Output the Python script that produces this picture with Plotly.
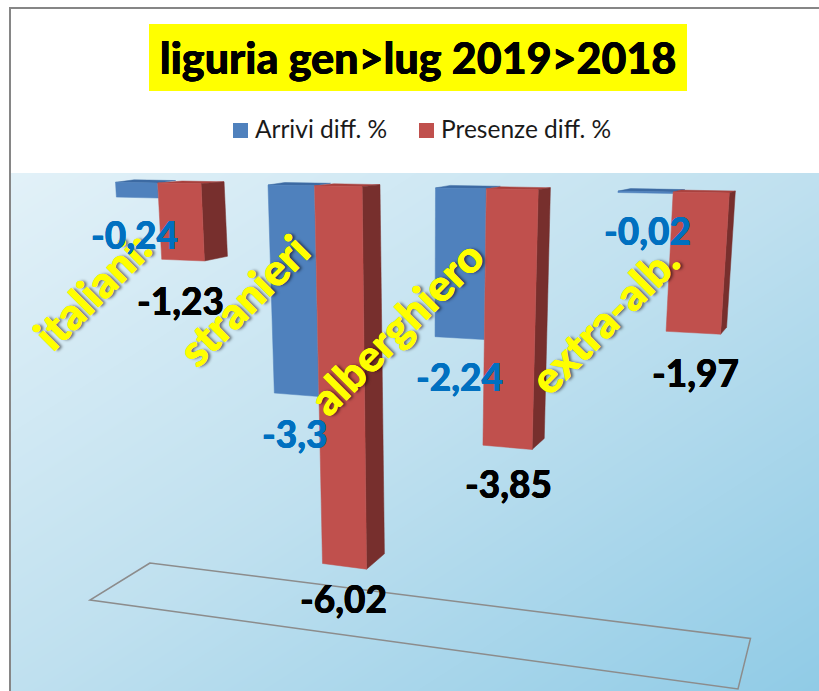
import plotly.graph_objects as go

# ---- data ----
categories = ["italiani:", "stranieri", "alberghiero", "extra-alb."]
arrivi = [-0.24, -3.3, -2.24, -0.02]
presenze = [-1.23, -6.02, -3.85, -1.97]
arrivi_labels = ["-0,24", "-3,3", "-2,24", "-0,02"]
presenze_labels = ["-1,23", "-6,02", "-3,85", "-1,97"]
series_names = ["Arrivi diff. %", "Presenze diff. %"]
title_text = "liguria gen>lug 2019>2018"

BLUE, BLUE_TOP, BLUE_LBL = "#4f81bd", "#3c6aa3", "#0070c0"
RED, RED_SIDE, RED_TOP = "#c0504d", "#772f2d", "#a8403d"
FONT = "Lato"


def heavy(color, w=0.3):
    return f"{w}px 0 0 {color}, -{w}px 0 0 {color}"


# ---- the chart's perspective: world (c, value) -> picture axes ----
def top_x(c):
    return 115.5 + 145 * c + 7.5 * c * c


def drop(x, v):
    return abs(v) * (59.7 + 0.0177 * x) / (1 + 0.0067 * abs(v))


def front(c, v):
    x = top_x(c)
    d = drop(x, v)
    return x + (420 - x) * d / 5000, 180.3 + 0.0175 * x + d


def back(c, v):
    x = top_x(c)
    d = drop(x, v)
    return (x + (420 - x) * d / 5000 + 29.5 - 0.0322 * x,
            180.3 + 0.0175 * x + d - 2 - 0.035 * d)


def blue_back(c):
    x, y = front(c, 0)
    return x + 20 - 0.012 * x, y - 2.5


def poly(pts, color, name):
    xs = [p[0] for p in pts] + [pts[0][0]]
    ys = [p[1] for p in pts] + [pts[0][1]]
    return go.Scatter(x=xs, y=ys, mode="lines", fill="toself", fillcolor=color,
                      line=dict(color=color, width=0.5), xaxis="x2", yaxis="y2",
                      name=name, showlegend=False, hoverinfo="skip")


GAP = 0.287
W = 0.286
fig = go.Figure()

# background gradient of the plot wall
fig.add_trace(go.Heatmap(z=[[0, 0.5], [0.5, 1]], x=[0, 1], y=[1, 0], zmin=0, zmax=1,
                         zsmooth="best", showscale=False, hoverinfo="skip",
                         colorscale=[[0, "#e2f1f8"], [0.5, "#bfe0ef"], [1, "#90cbe6"]]))

for i, (a, p) in enumerate(zip(arrivi, presenze)):
    c = float(i)
    # blue bar
    fig.add_trace(poly([front(c, 0), blue_back(c), blue_back(c + W), front(c + W, 0)],
                       BLUE_TOP, series_names[0]))
    fig.add_trace(poly([front(c, 0), front(c + W, 0), front(c + W, a), front(c, a)],
                       BLUE, series_names[0]))
    # red bar
    l, r = c + GAP, c + GAP + W
    fig.add_trace(poly([front(l, 0), front(r, 0), back(r, 0), back(l, 0)], RED_TOP, series_names[1]))
    fig.add_trace(poly([front(r, 0), back(r, 0), back(r, p), front(r, p)], RED_SIDE, series_names[1]))
    fig.add_trace(poly([front(l, 0), front(r, 0), front(r, p), front(l, p)], RED, series_names[1]))

annotations = []

# rotated category labels (under the value labels, as in the reference)
for name, x, y in zip(categories, [92, 243, 396, 604], [290, 300, 327, 319]):
    annotations.append(dict(x=x, y=y, text=name, showarrow=False, textangle=-45,
                            xref="x2", yref="y2",
                            font=dict(family=FONT, size=44, color="#ffff00", weight=900,
                                      shadow="0.3px 0 0 #ffff00, -0.3px 0 0 #ffff00, "
                                             "2px 2px 3px rgba(0,0,0,0.55)")))

for i, (a, p) in enumerate(zip(arrivi, presenze)):
    c = float(i)
    xa = (front(c, a)[0] + front(c + W, a)[0]) / 2
    ya = front(c + W, a)[1]
    xr = (front(c + GAP, p)[0] + front(c + GAP + W, p)[0]) / 2
    yr = front(c + GAP + W, p)[1]
    annotations.append(dict(x=xa + 0.01 * (xa - 450), y=ya + 36.5, text=arrivi_labels[i],
                            showarrow=False, xref="x2", yref="y2",
                            font=dict(family=FONT, size=37, color=BLUE_LBL, weight=900,
                                      shadow=heavy(BLUE_LBL))))
    annotations.append(dict(x=xr + 0.01 * (xr - 450), y=yr + 42 - 2.1 * abs(p), text=presenze_labels[i],
                            showarrow=False, xref="x2", yref="y2",
                            font=dict(family=FONT, size=37, color="#000000", weight=900,
                                      shadow=heavy("#000000"))))

# hand-placed legend
for name, swatch, x in zip(series_names, [BLUE, RED], [253, 439]):
    fig.add_trace(go.Scatter(x=[x - 12.5], y=[130.5], mode="markers", xaxis="x2", yaxis="y2",
                             marker=dict(symbol="square", size=15, color=swatch),
                             showlegend=False, hoverinfo="skip", name=name))
    annotations.append(dict(x=x, y=128, text=name, showarrow=False, xanchor="left",
                            xref="x2", yref="y2", font=dict(family=FONT, size=24.5, color="#1a1a1a")))

shapes = [
    dict(type="rect", xref="x2", yref="y2", x0=149, x1=687, y0=24, y1=91,
         fillcolor="#ffff00", line_width=0, layer="below"),
    dict(type="line", xref="x2", yref="y2", x0=10, x1=819, y0=8, y1=8,
         line=dict(color="#868686", width=2)),
    dict(type="line", xref="x2", yref="y2", x0=10, x1=10, y0=7, y1=691,
         line=dict(color="#868686", width=2)),
    dict(type="path", xref="x2", yref="y2",
         path="M 150 563 L 90 600 L 738 689 L 750.5 638.5 Z",
         line=dict(color="#8c8c8c", width=1.5)),
]

fig.update_layout(
    width=819, height=691, autosize=False, margin=dict(l=0, r=0, t=0, b=0),
    paper_bgcolor="#ffffff", plot_bgcolor="rgba(0,0,0,0)", showlegend=False,
    title=dict(text=title_text, x=418 / 819, y=1 - 59 / 691, xanchor="center", yanchor="middle",
               font=dict(family=FONT, size=43, color="#000000", weight=900,
                         shadow=heavy("#000000"))),
    xaxis=dict(domain=[11 / 819, 1], range=[0, 1], visible=False),
    yaxis=dict(domain=[0, 518 / 691], range=[0, 1], visible=False),
    xaxis2=dict(domain=[0, 1], range=[0, 819], visible=False, anchor="y2"),
    yaxis2=dict(domain=[0, 1], range=[691, 0], visible=False, anchor="x2"),
    annotations=annotations, shapes=shapes,
)
fig.write_html("out.html", config=dict(displayModeBar=False),
               post_script="document.body.style.margin='0';document.body.style.overflow='hidden';")
